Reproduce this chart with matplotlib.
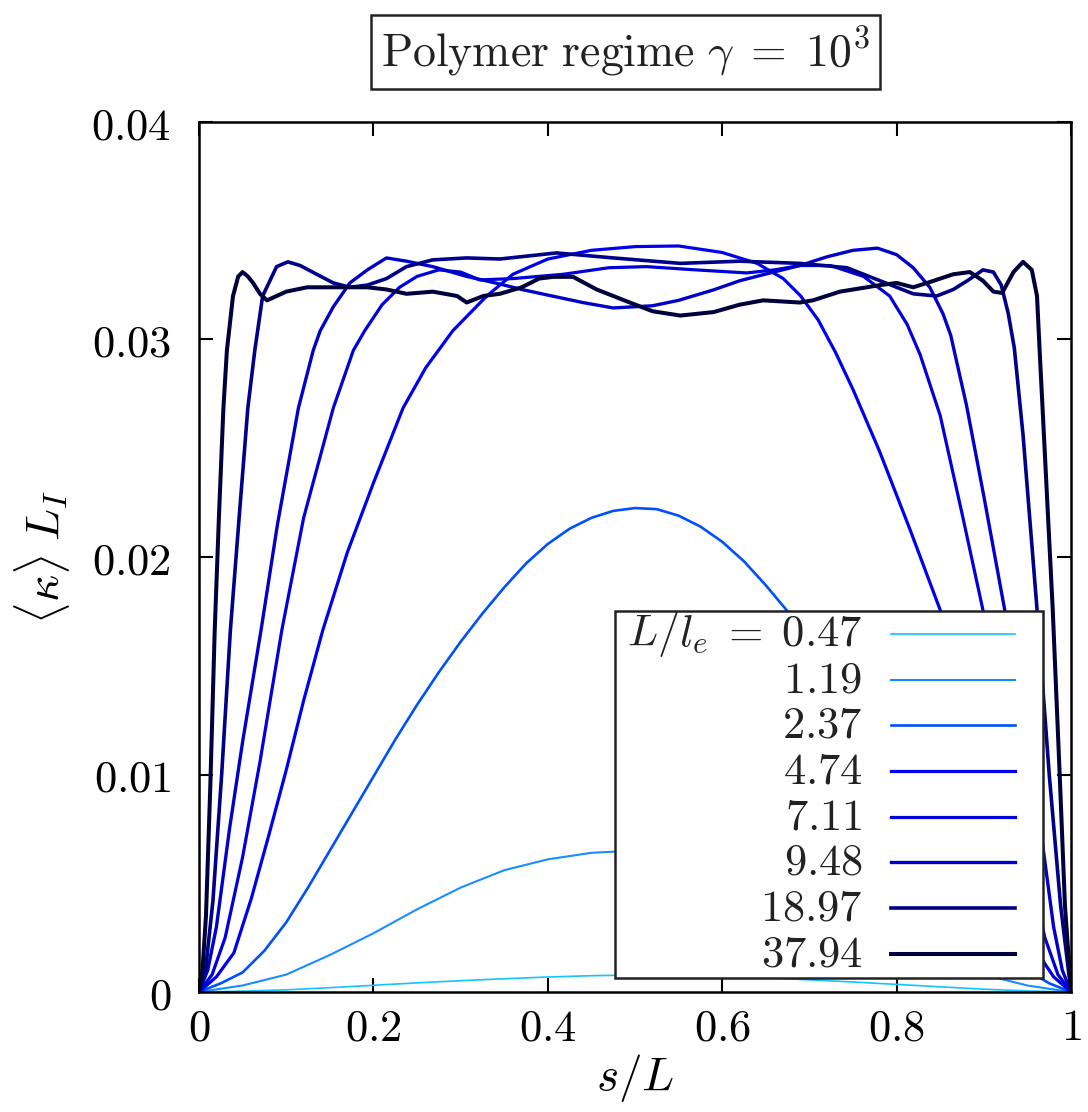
import matplotlib
matplotlib.use('Agg')
import matplotlib.pyplot as plt
from matplotlib.patches import Rectangle

plt.rcParams['mathtext.fontset'] = 'cm'
plt.rcParams['font.family'] = ['DejaVu Serif']

# data: s/L and <kappa> L_I for each L/l_e
x_047 = [0, 0.05, 0.1, 0.15, 0.2, 0.25, 0.3, 0.35, 0.4, 0.45, 0.5, 0.55, 0.6, 0.65, 0.7, 0.75, 0.8, 0.85, 0.9, 0.95, 1]
y_047 = [0, 0.00004, 0.0001, 0.0002, 0.00031, 0.00042, 0.00052, 0.00061, 0.00069, 0.00075, 0.00078,
         0.00077, 0.00072, 0.00065, 0.00056, 0.00046, 0.00035, 0.00024, 0.00013, 0.00005, 0]

x_119 = [0, 0.05, 0.1, 0.15, 0.2, 0.25, 0.3, 0.35, 0.4, 0.45, 0.5, 0.55, 0.6, 0.65, 0.7, 0.75, 0.8,
         0.85, 0.9, 0.95, 1]
y_119 = [0, 0.0003, 0.0008, 0.0017, 0.0027, 0.0038, 0.0048, 0.0056, 0.0061, 0.0064, 0.0065, 0.0064,
         0.0061, 0.0056, 0.0048, 0.0038, 0.0027, 0.0017, 0.0008, 0.0003, 0]

x_237 = [0, 0.025, 0.05, 0.075, 0.1, 0.125, 0.15, 0.175, 0.2, 0.225, 0.25, 0.275, 0.3, 0.325, 0.35,
         0.375, 0.4, 0.425, 0.45, 0.475, 0.5, 0.525, 0.55, 0.575, 0.6, 0.625, 0.65, 0.675, 0.7, 0.725,
         0.75, 0.775, 0.8, 0.825, 0.85, 0.875, 0.9, 0.925, 0.95, 0.975, 1]
y_237 = [0, 0.0004, 0.0009, 0.0019, 0.0032, 0.0048, 0.0065, 0.0082, 0.0099, 0.0116, 0.0132, 0.0147,
         0.0161, 0.0174, 0.0186, 0.0197, 0.0206, 0.0213, 0.0218, 0.02212, 0.02225, 0.0222, 0.0219,
         0.0214, 0.0207, 0.0198, 0.0187, 0.0175, 0.0161, 0.0146, 0.0131, 0.0115, 0.0098, 0.0081,
         0.0064, 0.0048, 0.0033, 0.0020, 0.0010, 0.0004, 0]

x_474 = [0, 0.02, 0.04, 0.06, 0.08, 0.1, 0.12, 0.142, 0.17, 0.2, 0.234, 0.26, 0.291, 0.33, 0.36, 0.4,
         0.45, 0.5, 0.55, 0.6, 0.64, 0.67, 0.69, 0.71, 0.73, 0.75, 0.78, 0.815, 0.85, 0.875, 0.9,
         0.92, 0.94, 0.96, 0.98, 1]
y_474 = [0, 0.0007, 0.0018, 0.0043, 0.0072, 0.0102, 0.0134, 0.01664, 0.0202, 0.0234, 0.02685, 0.0287,
         0.0304, 0.0320, 0.0330, 0.0337, 0.0341, 0.03427, 0.0343, 0.0340, 0.0335, 0.0328, 0.0320,
         0.0309, 0.0294, 0.0277, 0.0249, 0.0213, 0.01756, 0.0142, 0.0105, 0.0075, 0.0045, 0.0019,
         0.0007, 0]

x_711 = [0, 0.015, 0.03, 0.05, 0.07, 0.095, 0.12, 0.154, 0.177, 0.19, 0.21, 0.23, 0.25, 0.275, 0.3,
         0.322, 0.36, 0.418, 0.47, 0.513, 0.57, 0.628, 0.66, 0.689, 0.724, 0.762, 0.792, 0.812, 0.827,
         0.85, 0.875, 0.899, 0.93, 0.95, 0.97, 0.985, 1]
y_711 = [0, 0.0008, 0.0025, 0.0062, 0.0106, 0.01664, 0.0218, 0.02685, 0.0295, 0.0304, 0.0316, 0.0324,
         0.0329, 0.0332, 0.0331, 0.03274, 0.0328, 0.0330, 0.0333, 0.03335, 0.0332, 0.03306, 0.0332,
         0.0334, 0.0334, 0.0329, 0.0320, 0.0307, 0.0293, 0.0265, 0.0220, 0.01756, 0.0106, 0.0062,
         0.0025, 0.0008, 0]

x_948 = [0, 0.01, 0.02, 0.035, 0.05, 0.071, 0.09, 0.114, 0.131, 0.139, 0.154, 0.173, 0.193, 0.215,
         0.238, 0.268, 0.307, 0.345, 0.37, 0.399, 0.44, 0.475, 0.52, 0.55, 0.59, 0.62, 0.655, 0.689,
         0.72, 0.75, 0.778, 0.8, 0.819, 0.838, 0.853, 0.862, 0.88, 0.9, 0.924, 0.95, 0.965, 0.98, 0.99, 1]
y_948 = [0, 0.001, 0.003, 0.0075, 0.0115, 0.0166, 0.0215, 0.02685, 0.0295, 0.0304, 0.0315, 0.0326,
         0.0332, 0.03375, 0.0336, 0.03335, 0.0329, 0.03255, 0.0323, 0.03205, 0.0317, 0.03145, 0.03155,
         0.0318, 0.03228, 0.0327, 0.03306, 0.0334, 0.0338, 0.0341, 0.0342, 0.0339, 0.0333, 0.0324,
         0.0312, 0.0302, 0.0270, 0.0228, 0.01756, 0.0115, 0.0075, 0.003, 0.001, 0]

x_1897 = [0, 0.008, 0.016, 0.026, 0.036, 0.046, 0.056, 0.064, 0.073, 0.089, 0.102, 0.116, 0.135, 0.154,
          0.173, 0.193, 0.215, 0.238, 0.268, 0.307, 0.345, 0.41, 0.475, 0.552, 0.62, 0.689, 0.743, 0.781,
          0.819, 0.846, 0.865, 0.881, 0.899, 0.911, 0.92, 0.928, 0.935, 0.945, 0.961, 0.975, 0.988, 1]
y_1897 = [0, 0.0012, 0.0042, 0.0100, 0.01664, 0.0218, 0.02685, 0.0295, 0.0320, 0.03335, 0.03357,
          0.0334, 0.0330, 0.0326, 0.0324, 0.0325, 0.0328, 0.03335, 0.03366, 0.03375, 0.0337, 0.03398,
          0.03375, 0.0335, 0.0336, 0.0335, 0.0333, 0.0327, 0.0321, 0.0320, 0.0323, 0.0327, 0.0332,
          0.0331, 0.0325, 0.0312, 0.0296, 0.0256, 0.0176, 0.0100, 0.0040, 0]

x_3794 = [0, 0.004, 0.008, 0.013, 0.018, 0.023, 0.028, 0.032, 0.039, 0.045, 0.05, 0.056, 0.062, 0.07,
          0.078, 0.089, 0.1, 0.124, 0.154, 0.193, 0.215, 0.238, 0.268, 0.296, 0.307, 0.326, 0.345,
          0.37, 0.39, 0.406, 0.429, 0.456, 0.494, 0.52, 0.552, 0.59, 0.62, 0.647, 0.689, 0.704, 0.735,
          0.781, 0.8, 0.819, 0.838, 0.865, 0.884, 0.899, 0.911, 0.921, 0.934, 0.945, 0.955, 0.961,
          0.964, 0.979, 0.987, 0.993, 1]
y_3794 = [0, 0.001, 0.0035, 0.0095, 0.0166, 0.022, 0.02685, 0.0295, 0.0320, 0.0329, 0.0331, 0.0329,
          0.0326, 0.0321, 0.0318, 0.0320, 0.0322, 0.0324, 0.0324, 0.0324, 0.0323, 0.0321, 0.0322,
          0.0320, 0.0317, 0.0320, 0.0321, 0.0324, 0.0328, 0.03288, 0.03288, 0.0323, 0.0317, 0.0313,
          0.0311, 0.03126, 0.0316, 0.0318, 0.0317, 0.0318, 0.0322, 0.0325, 0.0326, 0.0324, 0.03264,
          0.0330, 0.0331, 0.0327, 0.0322, 0.03214, 0.0331, 0.03357, 0.0332, 0.0320, 0.0295, 0.0176,
          0.0100, 0.0040, 0]

xs = [x_047, x_119, x_237, x_474, x_711, x_948, x_1897, x_3794]
ys = [y_047, y_119, y_237, y_474, y_711, y_948, y_1897, y_3794]
labels = ['0.47', '1.19', '2.37', '4.74', '7.11', '9.48', '18.97', '37.94']
colors = ['#12c4ff', '#1a8cff', '#0050ff', '#0000f0', '#0000dd', '#0000c8', '#000088', '#00003c']
widths = [1.2, 1.5, 1.9, 2.3, 2.3, 2.4, 2.6, 2.9]

xticks = [0, 0.2, 0.4, 0.6, 0.8, 1]
xtick_labels = ['0', '0.2', '0.4', '0.6', '0.8', '1']
yticks = [0, 0.01, 0.02, 0.03, 0.04]
ytick_labels = ['0', '0.01', '0.02', '0.03', '0.04']

fig = plt.figure(figsize=(10.88, 11.12), dpi=100)
ax = fig.add_axes([0.1829, 0.1079, 0.8015, 0.7824])

for x, y, c, w in zip(xs, ys, colors, widths):
    ax.plot(x, y, color=c, lw=w, solid_joinstyle='round')

ax.set_xlim(0, 1)
ax.set_ylim(0, 0.04)
ax.set_xticks(xticks)
ax.set_xticklabels(['$' + t + '$' for t in xtick_labels])
ax.set_yticks(yticks)
ax.set_yticklabels(['$' + t + '$' for t in ytick_labels])
ax.tick_params(direction='in', length=10, width=1.5, labelsize=32, top=True, right=True)
ax.tick_params(axis='x', pad=10)
ax.tick_params(axis='y', pad=20)
for sp in ax.spines.values():
    sp.set_linewidth(1.8)

ax.set_xlabel(r'$s/L$', fontsize=34, labelpad=2)
ax.set_ylabel(r'$\langle\kappa\rangle\;L_I$', fontsize=34, labelpad=14)

# legend drawn by hand: text right-aligned, sample line on the right
ax.add_patch(Rectangle((0.477, 0.016), 0.491, 0.422, transform=ax.transAxes,
                       facecolor='white', edgecolor='#222222', lw=1.8, zorder=5))
for i, (lab, c, w) in enumerate(zip(labels, colors, widths)):
    yy = 0.4115 - 0.0525 * i
    txt = r'$L/l_e\;=\;' + lab + '$' if i == 0 else '$' + lab + '$'
    ax.text(0.761, yy, txt, transform=ax.transAxes, ha='right', va='center',
            fontsize=32, color='#222222', zorder=6)
    ax.plot([0.794, 0.936], [yy, yy], transform=ax.transAxes, color=c, lw=w,
            zorder=6, clip_on=False)

fig.text(0.575, 0.953, r'$\mathrm{Polymer\ regime}\ \gamma\;=\;10^3$', fontsize=33,
         ha='center', va='center', color='#222222',
         bbox=dict(boxstyle='square,pad=0.22', facecolor='white', edgecolor='#222222', lw=1.8))

fig.savefig('out.png', dpi=100)
